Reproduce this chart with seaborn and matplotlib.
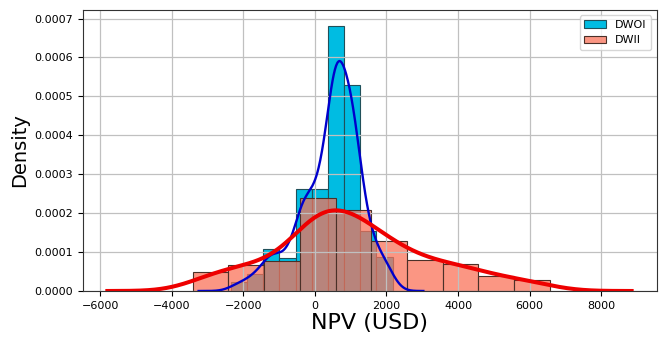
import numpy as np
import matplotlib
matplotlib.use("Agg")
import matplotlib.pyplot as plt
import seaborn as sns
from matplotlib.ticker import FormatStrFormatter

# ---- data ----
dwoi_edges = [-2349, -1897, -1445, -993, -541, -89, 363, 815, 1267, 1719, 2171]
dwoi_density = [0.000022, 0.000043, 0.000108, 0.0000855, 0.000263, 0.000263,
                0.000682, 0.000528, 0.000154, 0.0000872]

dwii_edges = [-3414, -2416, -1419, -421, 576, 1574, 2571, 3569, 4566, 5564, 6561]
dwii_density = [0.000048, 0.000068, 0.000077, 0.000238, 0.000209, 0.000128,
                0.0000787, 0.0000684, 0.0000376, 0.0000274]

# visible extent of each density curve
dwoi_kde_range = (-3250, 3030)
dwii_kde_range = (-5800, 8850)

xticks = [-6000, -4000, -2000, 0, 2000, 4000, 6000, 8000]
yticks = [0.0000, 0.0001, 0.0002, 0.0003, 0.0004, 0.0005, 0.0006, 0.0007]

dwoi_centers = [(a + b) / 2 for a, b in zip(dwoi_edges[:-1], dwoi_edges[1:])]
dwii_centers = [(a + b) / 2 for a, b in zip(dwii_edges[:-1], dwii_edges[1:])]

plt.rcParams['font.family'] = ['DejaVu Sans']

fig = plt.figure(figsize=(6.64, 3.37), dpi=100)
ax = fig.add_axes([0.125, 0.1365, 0.864, 0.834])

blue = '#00BCE2'
salmon = '#FA7158'

sns.histplot(x=dwoi_centers, weights=dwoi_density, bins=dwoi_edges, stat='count',
             color=blue, alpha=1.0, edgecolor='#20505a', linewidth=0.8,
             label='DWOI', ax=ax)
sns.histplot(x=dwii_centers, weights=dwii_density, bins=dwii_edges, stat='count',
             color=salmon, alpha=0.74, edgecolor='#4a3028', linewidth=0.8,
             label='DWII', ax=ax)

sns.kdeplot(x=dwoi_centers, weights=dwoi_density, bw_adjust=0.42, cut=8,
            clip=dwoi_kde_range, gridsize=400,
            color='#0000CC', linewidth=1.7, ax=ax)
sns.kdeplot(x=dwii_centers, weights=dwii_density, bw_adjust=0.51, cut=8,
            clip=dwii_kde_range, gridsize=400,
            color='#EE0000', linewidth=2.9, ax=ax)

ax.set_xlim(-6480, 9550)
ax.set_ylim(0, 0.000722)
ax.set_xticks(xticks)
ax.set_yticks(yticks)
ax.yaxis.set_major_formatter(FormatStrFormatter('%.4f'))
ax.tick_params(labelsize=8)
ax.grid(True, color='#c0c0c0', linewidth=0.9)
ax.set_axisbelow('line')

ax.set_xlabel('NPV (USD)', fontsize=16, labelpad=2)
ax.set_ylabel('Density', fontsize=14, labelpad=4)

ax.legend(loc='upper right', fontsize=8, handlelength=2.0)

for s in ax.spines.values():
    s.set_color('#333333')

fig.savefig('out.png', dpi=100)
